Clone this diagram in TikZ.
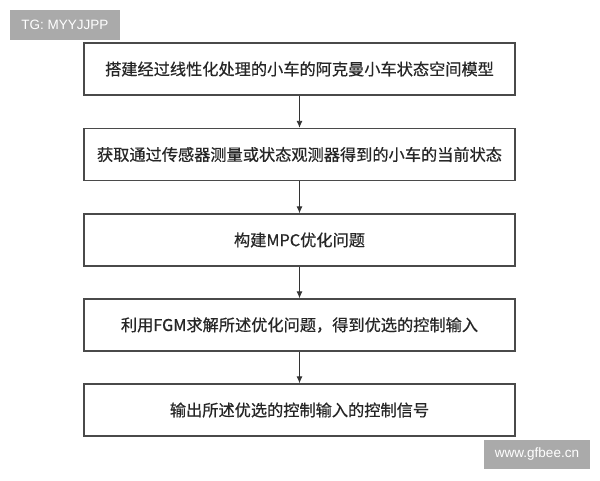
\documentclass[tikz,border=0pt]{standalone}
\usepackage{fontspec}
\newfontfamily\cjk[FakeBold=0.6]{Noto Sans CJK SC}
\newfontfamily\wm{Liberation Sans}
\usetikzlibrary{arrows.meta}
\definecolor{wmgray}{HTML}{AAAAAA}
\definecolor{boxline}{HTML}{4A4A4A}
\tikzset{
  stepbox/.style={draw=boxline, line width=1.4pt, minimum width=431pt, minimum height=52pt, inner sep=0pt, font=\cjk\fontsize{16.2}{18}\selectfont, text=black!85},
  flow/.style={draw=black!80, line width=0.9pt, -{Latex[length=7pt,width=6pt]}},
  wmbox/.style={fill=wmgray, inner sep=0pt, text=white, font=\wm\fontsize{13.5}{15}\selectfont}
}
\begin{document}
\begin{tikzpicture}[x=1pt,y=-1pt]
\useasboundingbox (0,0) rectangle (600,480);
\node[wmbox, minimum width=110pt, minimum height=30pt] (wm1) at (65,25) {TG: MYYJJPP};
\node[wmbox, minimum width=106pt, minimum height=29pt] (wm2) at (537,454.5) {www.gfbee.cn};
\node[stepbox] (s1) at (299.5,69) {搭建经过线性化处理的小车的阿克曼小车状态空间模型};
\node[stepbox] (s2) at (299.5,154.5) {获取通过传感器测量或状态观测器得到的小车的当前状态};
\node[stepbox] (s3) at (299.5,240) {构建MPC优化问题};
\node[stepbox] (s4) at (299.5,325) {利用FGM求解所述优化问题，得到优选的控制输入};
\node[stepbox] (s5) at (299.5,410) {输出所述优选的控制输入的控制信号};
\draw[flow] (s1) -- (s2);
\draw[flow] (s2) -- (s3);
\draw[flow] (s3) -- (s4);
\draw[flow] (s4) -- (s5);
\end{tikzpicture}
\end{document}
